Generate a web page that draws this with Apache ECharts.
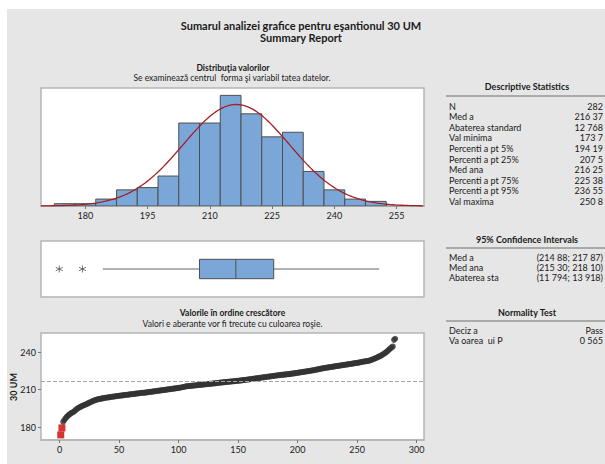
<!DOCTYPE html>
<html><head><meta charset="utf-8">
<script src="https://cdn.jsdelivr.net/npm/echarts@6/dist/echarts.min.js"></script>
<style>
html,body{margin:0;padding:0;background:#fff;}
#wrap{position:relative;width:605px;height:464px;background:#fff;overflow:hidden;}
#bg{position:absolute;left:7px;top:9px;width:598px;height:455px;background:#E6E6E6;}
#c{position:absolute;left:0;top:0;width:605px;height:464px;}
</style>
</head><body><div id="wrap"><div id="bg"></div><div id="c"></div></div>
<script>
// ---------- DATA ----------
const binStart = [172.5,177.5,182.5,187.5,192.5,197.5,202.5,207.5,212.5,217.5,222.5,227.5,232.5,237.5,242.5,247.5];
const BIN_WIDTH = 5;
const binCounts = [1,1,3,7,8,13,36,36,48,40,30,32,15,7,3,2];
const histTicks = [180,195,210,225,240,255];

const MEAN = 216.37;
const SD = 12.768;
const N = 282;

// box plot: whisker low, Q1, median, Q3, whisker high
const boxStats = [184.2, 207.5, 216.25, 225.38, 250.8];
const boxOutliers = [173.7, 179.3];

// values in ascending order (index 1..282)
const sortedValues = [
173.7,
179.3,
184.2,185.6,186.9,
188.2,189.0,189.9,190.6,191.3,191.8,192.4,
193.1,194.1,194.8,195.4,195.9,196.4,196.9,197.3,
197.7,198.1,198.6,199.0,199.5,199.9,200.4,200.8,201.2,201.6,201.9,202.2,202.4,
202.6,202.8,203.0,203.2,203.4,203.5,203.7,203.8,204.0,204.1,204.3,204.4,204.5,204.7,204.8,204.9,205.1,205.2,205.3,205.4,205.6,205.7,205.8,205.9,206.0,206.2,206.3,206.4,206.5,206.6,206.8,206.9,207.0,207.1,207.3,207.4,
207.5,207.5,207.6,207.8,207.9,208.0,208.2,208.3,208.4,208.6,208.7,208.8,209.0,209.1,209.2,209.4,209.5,209.6,209.8,209.9,210.0,210.2,210.3,210.4,210.6,210.7,210.8,211.0,211.1,211.2,211.4,211.5,211.7,211.9,212.1,212.3,
212.6,212.7,212.8,212.9,213.0,213.1,213.2,213.3,213.4,213.5,213.6,213.7,213.8,213.9,214.0,214.1,214.2,214.3,214.4,214.5,214.6,214.7,214.8,214.9,215.0,215.1,215.2,215.3,215.5,215.6,215.7,215.8,215.9,216.0,216.1,216.2,216.3,216.4,216.5,216.6,216.7,216.8,216.9,217.0,217.1,217.2,217.3,217.4,
217.6,217.7,217.8,217.9,218.1,218.2,218.3,218.5,218.6,218.7,218.9,219.0,219.1,219.3,219.4,219.5,219.7,219.8,219.9,220.1,220.2,220.3,220.5,220.6,220.7,220.9,221.0,221.1,221.3,221.4,221.5,221.6,221.8,221.9,222.0,222.1,222.2,222.3,222.4,222.4,
222.6,222.8,222.9,223.1,223.2,223.4,223.5,223.7,223.8,224.0,224.1,224.3,224.4,224.6,224.7,224.9,225.0,225.2,225.4,225.5,225.7,225.9,226.1,226.3,226.5,226.7,226.9,227.1,227.2,227.4,
227.6,227.7,227.9,228.0,228.2,228.3,228.5,228.6,228.8,228.9,229.1,229.2,229.4,229.5,229.7,229.8,230.0,230.1,230.3,230.4,230.6,230.7,230.9,231.0,231.2,231.3,231.5,231.6,231.8,232.0,232.2,232.4,
232.6,232.7,232.8,233.0,233.2,233.5,233.8,234.2,234.6,235.0,235.4,235.9,236.5,236.6,237.2,
237.8,238.4,239.1,239.7,240.5,241.3,242.2,
243.0,243.8,244.6,
249.9,250.8
];
const orderTicksX = [0,50,100,150,200,250,300];
const orderTicksY = [180,210,240];

const descLabels = ['N','Med a','Abaterea standard','Val minima','Percenti a pt 5%','Percenti a pt 25%','Med ana','Percenti a pt 75%','Percenti a pt 95%','Val maxima'];
const descValues = ['282','216 37','12 768','173 7','194 19','207 5','216 25','225 38','236 55','250 8'];
const ciLabels = ['Med a','Med ana','Abaterea sta'];
const ciValues = ['(214 88; 217 87)','(215 30; 218 10)','(11 794; 13 918)'];
const normLabels = ['Deciz a','Va oarea  ui P'];
const normValues = ['Pass','0 565'];

// ---------- LAYOUT ----------
const FONT = 'Lato, "Open Sans", sans-serif';
const TXT = '#1a1a1a';
const H_MIN = 169.3, H_MAX = 261.6;

const chart = echarts.init(document.getElementById('c'), null, {renderer:'svg', width:605, height:464});

const normalCurve = [];
for (let x = H_MIN; x <= H_MAX + 0.001; x += 0.5) {
  const z = (x - MEAN) / SD;
  normalCurve.push([x, N * BIN_WIDTH * Math.exp(-0.5 * z * z) / (SD * Math.sqrt(2 * Math.PI))]);
}

const graphics = [];
function txt(t, x, y, size, weight, align, rot) {
  graphics.push({type:'text', silent:true, x:x, y:y, rotation:rot||0, style:{text:t, x:0, y:0, fill:TXT,
    font:(weight||'normal') + ' ' + size + 'px ' + FONT, textAlign:align||'center', textVerticalAlign:'middle'}});
}
function hline(x1, x2, y) {
  graphics.push({type:'line', silent:true, shape:{x1:x1, y1:y, x2:x2, y2:y}, style:{stroke:'#6e6e6e', lineWidth:1}});
}
txt('Sumarul analizei grafice pentru eşantionul 30 UM', 301, 25, 11, 'bold');
txt('Summary Report', 301, 37, 11, 'bold');
txt('Distribuţia valorilor', 233, 67.5, 8.5, 'bold');
txt('Se examinează centrul  forma şi variabil tatea datelor.', 232, 78, 8.5);
txt('Valorile în ordine crescătore', 232.5, 313, 8.5, 'bold');
txt('Valori e aberante vor fi trecute cu culoarea roşie.', 232.5, 324, 8.5);
txt('30 UM', 13, 387, 9, 'bold', 'center', Math.PI / 2);

txt('Descriptive Statistics', 527, 86, 9, 'bold');
hline(446, 605, 96);
descLabels.forEach((l, i) => { txt(l, 449, 106 + i * 10.6, 9, 'normal', 'left'); txt(descValues[i], 603, 106 + i * 10.6, 9, 'normal', 'right'); });

txt('95% Confidence Intervals', 527, 239, 9, 'bold');
hline(446, 605, 248);
ciLabels.forEach((l, i) => { txt(l, 449, 257 + i * 10.3, 9, 'normal', 'left'); txt(ciValues[i], 603, 257 + i * 10.3, 9, 'normal', 'right'); });

txt('Normality Test', 527, 312, 9, 'bold');
hline(446, 605, 321);
normLabels.forEach((l, i) => { txt(l, 449, 330 + i * 10.3, 9, 'normal', 'left'); txt(normValues[i], 603, 330 + i * 10.3, 9, 'normal', 'right'); });

const gridStyle = {show:true, backgroundColor:'#fff', borderColor:'#b5b5b5', borderWidth:1.5, outerBoundsMode:'none'};
const lbl = {fontSize:9, color:TXT, fontFamily:FONT};

const scatterData = sortedValues.map((v, i) => [i + 1, v]);
const normalPts = scatterData.filter(p => p[1] >= boxStats[0]);
const outlierPts = scatterData.filter(p => p[1] < boxStats[0]);

const option = {
  animation:false,
  backgroundColor:'transparent',
  textStyle:{fontFamily:FONT},
  graphic: graphics,
  grid:[
    Object.assign({left:41, top:88, width:383, height:118}, gridStyle),
    Object.assign({left:41, top:241, width:383, height:56}, gridStyle),
    Object.assign({left:41, top:333, width:383, height:107}, gridStyle)
  ],
  xAxis:[
    {gridIndex:0, type:'value', min:H_MIN, max:H_MAX,
     axisLine:{show:true, onZero:false, lineStyle:{color:'#9a9a9a', width:1.5}},
     axisTick:{show:true, customValues:histTicks, length:3, lineStyle:{color:'#777'}},
     axisLabel:Object.assign({customValues:histTicks, margin:5}, lbl), splitLine:{show:false}},
    {gridIndex:1, type:'value', min:H_MIN, max:H_MAX, show:false},
    {gridIndex:2, type:'value', min:-15.6, max:306.2,
     axisLine:{show:true, onZero:false, lineStyle:{color:'#b5b5b5', width:1.5}},
     axisTick:{show:true, customValues:orderTicksX, length:3, lineStyle:{color:'#777'}},
     axisLabel:Object.assign({customValues:orderTicksX, margin:5}, lbl), splitLine:{show:false}}
  ],
  yAxis:[
    {gridIndex:0, type:'value', min:0, max:51.2, show:false},
    {gridIndex:1, type:'value', min:-1, max:1, show:false},
    {gridIndex:2, type:'value', min:169.6, max:255.4, position:'left',
     axisLine:{show:false, onZero:false},
     axisTick:{show:true, customValues:orderTicksY, length:3, lineStyle:{color:'#777'}},
     axisLabel:Object.assign({customValues:orderTicksY, margin:5}, lbl), splitLine:{show:false}}
  ],
  series:[
    {type:'custom', xAxisIndex:0, yAxisIndex:0, silent:true, clip:true,
     data: binStart.map((s, i) => [s, s + BIN_WIDTH, binCounts[i]]),
     encode:{x:[0,1], y:2},
     renderItem:function(params, api){
       const p0 = api.coord([api.value(0), 0]);
       const p1 = api.coord([api.value(1), api.value(2)]);
       return {type:'rect', shape:{x:p0[0], y:p1[1], width:p1[0]-p0[0], height:p0[1]-p1[1]},
               style:{fill:'#7BA7D8', stroke:'#4f4f4f', lineWidth:1}};
     }},
    {type:'line', xAxisIndex:0, yAxisIndex:0, data:normalCurve, showSymbol:false, silent:true, clip:true,
     lineStyle:{color:'#A31F24', width:1.3}, z:5},
    {type:'custom', xAxisIndex:1, yAxisIndex:1, silent:true,
     data:[boxStats], encode:{x:[0,1,2,3,4]},
     renderItem:function(params, api){
       const c = [0,1,2,3,4].map(k => api.coord([api.value(k), 0]));
       const y = c[0][1], h = 9.7;
       const ls = {stroke:'#666', lineWidth:1};
       return {type:'group', children:[
         {type:'line', shape:{x1:c[0][0], y1:y, x2:c[1][0], y2:y}, style:ls},
         {type:'line', shape:{x1:c[3][0], y1:y, x2:c[4][0], y2:y}, style:ls},
         {type:'rect', shape:{x:c[1][0], y:y-h, width:c[3][0]-c[1][0], height:2*h}, style:{fill:'#7BA7D8', stroke:'#4f4f4f', lineWidth:1}},
         {type:'line', shape:{x1:c[2][0], y1:y-h, x2:c[2][0], y2:y+h}, style:{stroke:'#4f4f4f', lineWidth:1}}
       ]};
     }},
    {type:'scatter', xAxisIndex:1, yAxisIndex:1, silent:true,
     data: boxOutliers.map(v => [v, 0]),
     symbol:'path://M5,0L5,10M0.67,2.5L9.33,7.5M0.67,7.5L9.33,2.5', symbolSize:7,
     itemStyle:{color:'none', borderColor:'#555', borderWidth:1}},
    {type:'scatter', xAxisIndex:2, yAxisIndex:2, silent:true, data:normalPts,
     symbol:'circle', symbolSize:6, itemStyle:{color:'#333333'},
     markLine:{silent:true, symbol:'none', label:{show:false},
       lineStyle:{type:'dashed', color:'#a5a5a5', width:1}, data:[{yAxis:MEAN}]}},
    {type:'scatter', xAxisIndex:2, yAxisIndex:2, silent:true, data:outlierPts,
     symbol:'rect', symbolSize:7, itemStyle:{color:'#CC0000'}, z:6}
  ]
};
chart.setOption(option);
</script></body></html>
